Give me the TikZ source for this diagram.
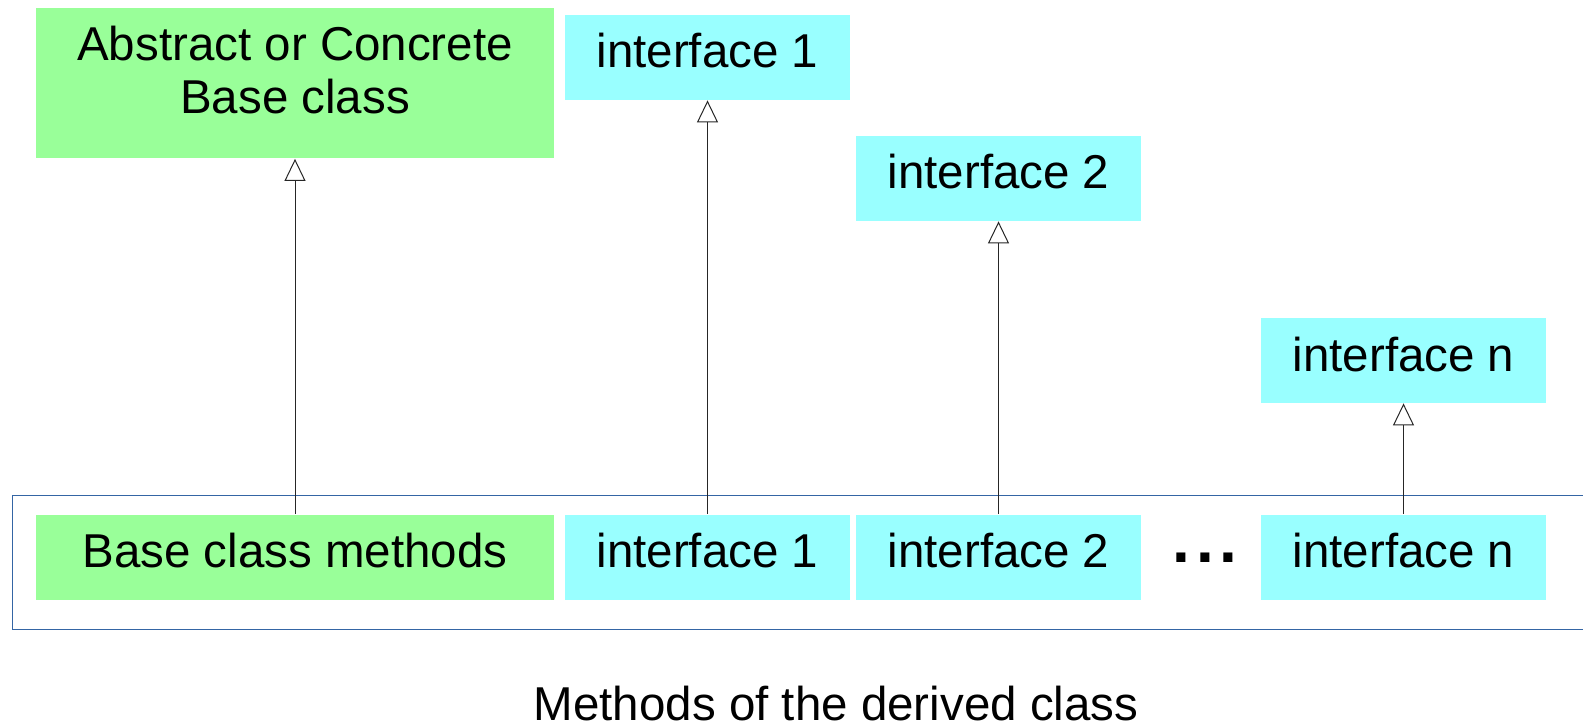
\documentclass[tikz,border=0pt]{standalone}
\usepackage{fontspec}
\setmainfont{Liberation Sans}
\usetikzlibrary{arrows.meta,positioning}
\definecolor{basegreen}{HTML}{99FF99}
\definecolor{ifacecyan}{HTML}{99FFFF}
\definecolor{frameblue}{HTML}{3465A4}

\begin{document}
\begin{tikzpicture}[x=0.5pt, y=-0.5pt]
        \tikzstyle{classbox}=[inner sep=0pt, minimum height=42.5pt, text height=17pt, text depth=6.5pt, font=\fontsize{23.75}{26.5}\selectfont]
        \tikzstyle{greenbox}=[classbox, fill=basegreen, minimum width=259pt]
        \tikzstyle{cyanbox}=[classbox, fill=ifacecyan, minimum width=142.5pt]
        \tikzstyle{inherit}=[draw=black!85, line width=0.5pt, -{Triangle[open, width=10.5pt, length=11pt]}]

        \useasboundingbox (0,0) rectangle (1583,727);

        % Frame round the derived class
        \draw[frameblue, line width=0.5pt] (12,495) rectangle (1600,629);

        % Base class and interfaces
        \node[greenbox, minimum height=75pt, align=center, text height=43.5pt, text depth=13pt] (base) at (295,83.5) {Abstract or Concrete\\Base class};
        \node[cyanbox] (if1) at (707.5,57.5) {interface 1};
        \node[cyanbox] (if2) at (998.5,178.5) {interface 2};
        \node[cyanbox] (ifn) at (1403.5,360.5) {interface n};

        % Methods of the derived class
        \node[greenbox] (mbase) at (295,557) {Base class methods};
        \node[cyanbox] (mif1) at (707.5,557) {interface 1};
        \node[cyanbox] (mif2) at (998.5,557) {interface 2};
        \node[cyanbox] (mifn) at (1403.5,557) {interface n};
        \node[anchor=base, inner sep=0pt, font=\fontsize{32}{38}\selectfont\bfseries] (dots) at (1205,562.5) {.\hspace{2.85pt}.\hspace{2.85pt}.};

        % Caption
        \node[anchor=base, inner sep=0pt, font=\fontsize{23.75}{26.5}\selectfont] (caption) at (836,720) {Methods of the derived class};

        % Inheritance arrows
        \foreach \from/\to in {mbase/base, mif1/if1, mif2/if2, mifn/ifn}
                \draw[inherit] (\from) -- (\to);
\end{tikzpicture}
\end{document}
